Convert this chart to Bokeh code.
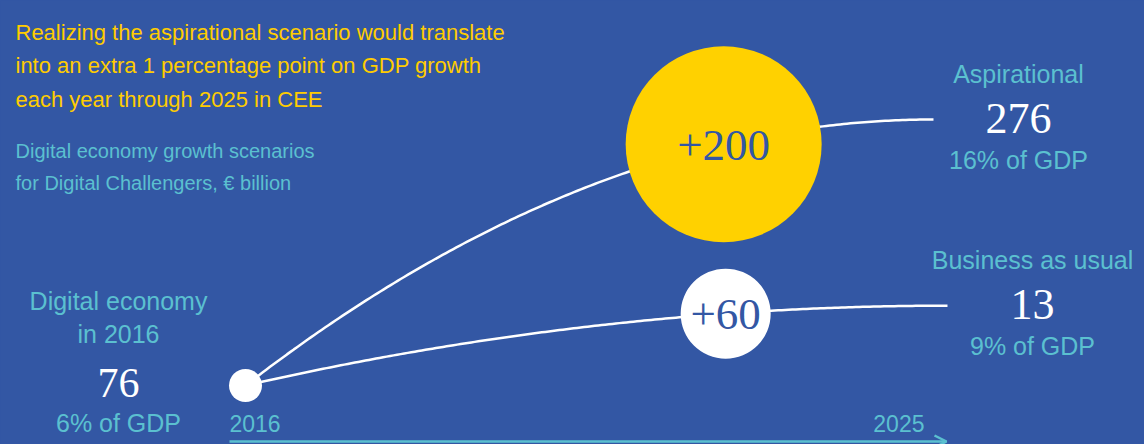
import numpy as np
from bokeh.plotting import figure
from bokeh.models import Range1d, Label, Arrow, OpenHead
from bokeh.core.properties import value
from bokeh.embed import file_html
from bokeh.resources import INLINE

# ---------------- data ----------------
title_lines = [
    "Realizing the aspirational scenario would translate",
    "into an extra 1 percentage point on GDP growth",
    "each year through 2025 in CEE",
]
subtitle_lines = [
    "Digital economy growth scenarios",
    "for Digital Challengers, \u20ac billion",
]
base_year = 2016
end_year = 2025
year_labels = ["2016", "2025"]
base_value = 76
base_title = ["Digital economy", "in 2016"]
base_value_text = "76"
base_share = "6% of GDP"

scenarios = ["Aspirational", "Business as usual"]
scenario_values = [276, 136]
scenario_value_text = ["276", "13"]
scenario_shares = ["16% of GDP", "9% of GDP"]

# ---------------- style / layout ----------------
BG = "#3357A4"
YELLOW = "#FFCC00"
CIRCLE_YELLOW = "#FFD100"
TEAL = "#5BC0D0"
WHITE = "#FFFFFF"
SANS = "Liberation Sans"
SERIF = "Liberation Serif"

W, H = 1144, 444
PX_YEAR = 72.6
PX_UNIT = 1.33
X0_PX = 245   # base year position (px from left)
Y0_PX = 385   # base value position (px from top)

x_start = base_year - X0_PX / PX_YEAR
y_top = base_value + Y0_PX / PX_UNIT
x_range = Range1d(x_start, x_start + W / PX_YEAR)
y_range = Range1d(y_top - H / PX_UNIT, y_top)


def sx(px):  # pixel -> data x
    return x_start + px / PX_YEAR


def sy(py):  # pixel (from top) -> data y
    return y_top - py / PX_UNIT


curve_end_px = [933, 947]
circle_t = [0.695, 0.684]
circle_sizes = [196, 90]
circle_fills = [CIRCLE_YELLOW, WHITE]

p = figure(width=W, height=H, x_range=x_range, y_range=y_range,
           output_backend="svg", toolbar_location=None, min_border=0)
p.background_fill_color = BG
p.border_fill_color = BG
p.outline_line_color = None
p.axis.visible = False
p.grid.visible = False


def curve(t, v, ex):
    x = base_year + t * (ex - base_year)
    y = base_value + (v - base_value) * (1 - (1 - t) ** 2)
    return x, y


# time axis arrow
ax_y = sy(441)
p.add_layout(Arrow(end=OpenHead(line_color=TEAL, line_width=2.5, size=12),
                   x_start=sx(229), y_start=ax_y, x_end=sx(946), y_end=ax_y,
                   line_color=TEAL, line_width=2.5))

for i, v in enumerate(scenario_values):
    ex = sx(curve_end_px[i])
    t = np.linspace(0, 1, 200)
    x, y = curve(t, v, ex)
    p.line(x, y, line_color=WHITE, line_width=2.5)

    cx, cy = curve(circle_t[i], v, ex)
    p.scatter([cx], [cy], size=circle_sizes[i], fill_color=circle_fills[i],
              line_color=None)
    p.text([cx], [cy], text=["+%d" % (v - base_value)], text_align="center",
           text_baseline="middle", text_color=BG, text_font=value(SERIF),
           text_font_size="45px", y_offset=1)

    # right labels
    p.text([ex], [v], text=[scenarios[i]], text_align="center",
           text_baseline="middle", text_color=TEAL, text_font=value(SANS),
           text_font_size="25px", x_offset=85, y_offset=-46)
    p.text([ex], [v], text=[scenario_value_text[i]], text_align="center",
           text_baseline="middle", text_color=WHITE, text_font=value(SERIF),
           text_font_size="44px", x_offset=85, y_offset=-1)
    p.text([ex], [v], text=[scenario_shares[i]], text_align="center",
           text_baseline="middle", text_color=TEAL, text_font=value(SANS),
           text_font_size="25px", x_offset=85, y_offset=40)

# base point
p.scatter([base_year], [base_value], size=33, fill_color=WHITE, line_color=None)
for txt, dy in zip(base_title, [-85, -52]):
    p.text([base_year], [base_value], text=[txt], text_align="center",
           text_baseline="middle", text_color=TEAL, text_font=value(SANS),
           text_font_size="25px", x_offset=-127, y_offset=dy)
p.text([base_year], [base_value], text=[base_value_text], text_align="center",
       text_baseline="middle", text_color=WHITE, text_font=value(SERIF),
       text_font_size="42px", x_offset=-127, y_offset=-3)
p.text([base_year], [base_value], text=[base_share], text_align="center",
       text_baseline="middle", text_color=TEAL, text_font=value(SANS),
       text_font_size="25px", x_offset=-127, y_offset=37)

# year labels
p.text([base_year], [sy(423)], text=[year_labels[0]], text_align="left",
       text_baseline="middle", text_color=TEAL, text_font=value(SANS),
       text_font_size="23px", x_offset=-16)
p.text([end_year], [sy(423)], text=[year_labels[1]], text_align="center",
       text_baseline="middle", text_color=TEAL, text_font=value(SANS),
       text_font_size="23px")

# title & subtitle
for txt, base in zip(title_lines, [32, 65, 99]):
    p.add_layout(Label(x=15, y=H - base, x_units="screen", y_units="screen",
                       text=txt, text_color=YELLOW, text_font=SANS,
                       text_font_size="22px", text_baseline="alphabetic"))
for txt, base in zip(subtitle_lines, [150, 182]):
    p.add_layout(Label(x=15, y=H - base, x_units="screen", y_units="screen",
                       text=txt, text_color=TEAL, text_font=SANS,
                       text_font_size="20px", text_baseline="alphabetic"))

html = file_html(p, INLINE)
html = html.replace("</head>",
                    "<style>html,body{margin:0;padding:0;overflow:hidden;background:%s;}</style></head>" % BG, 1)
open("out.html", "w").write(html)
